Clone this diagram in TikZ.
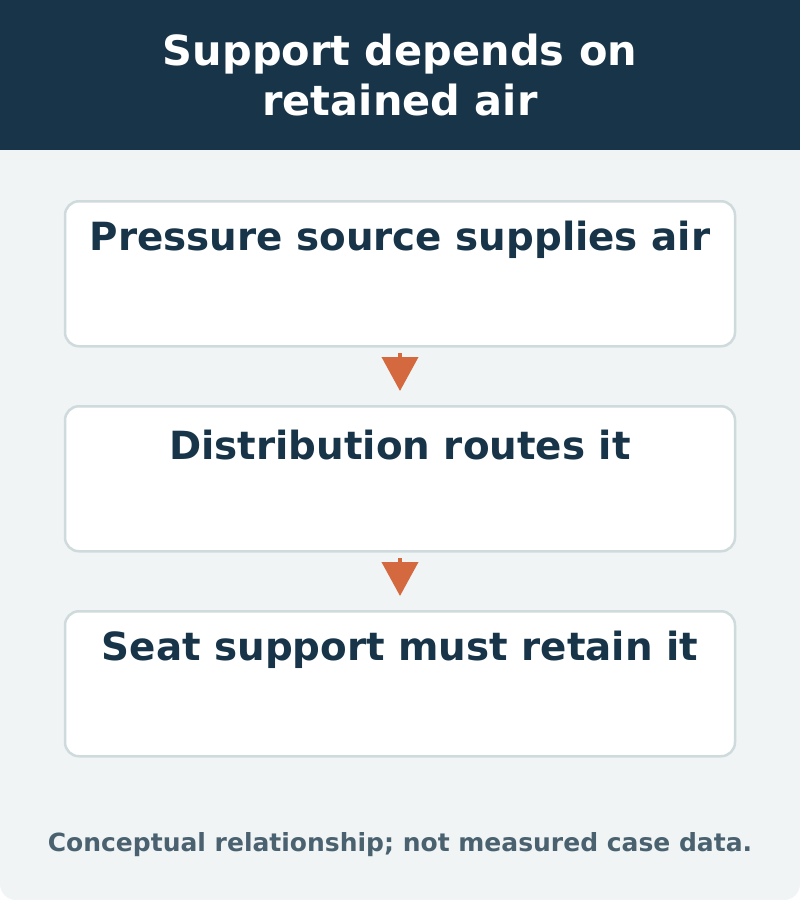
\documentclass[tikz,border=0pt]{standalone}
\usepackage{fontspec}
\setmainfont{DejaVu Sans}
\usetikzlibrary{arrows.meta}
\definecolor{navy}{HTML}{173449}
\definecolor{bg}{HTML}{F0F4F5}
\definecolor{bord}{HTML}{CFDADD}
\definecolor{orng}{HTML}{D4693F}
\definecolor{foot}{HTML}{4A6270}
\begin{document}
\begin{tikzpicture}[x=1pt,y=-1pt,
 box/.style={draw=bord,line width=2.5pt,fill=white,rounded corners=14pt,minimum width=670pt,minimum height=145pt,anchor=north},
 lbl/.style={text=navy,font=\bfseries\fontsize{38.8}{44}\selectfont,anchor=center},
 arr/.style={draw=orng,line width=4pt,-{Triangle[width=36pt,length=34pt]}}]
\useasboundingbox (0,0) rectangle (800,900);
\fill[bg,rounded corners=16pt] (0,0) rectangle (800,900);
\fill[navy] (0,0) rectangle (800,150);
\node[text=white,font=\bfseries\fontsize{41.5}{50}\selectfont,align=center] (title) at (400,75) {Support depends on\\retained air};
\node[box] (b1) at (400,200) {};
\node[box] (b2) at (400,405) {};
\node[box] (b3) at (400,610) {};
\node[lbl] (t1) at (400,240) {Pressure source supplies air};
\node[lbl] (t2) at (400,445) {Distribution routes it};
\node[lbl] (t3) at (400,650) {Seat support must retain it};
\coordinate (a1s) at (400,353); \coordinate (a1e) at (400,391);
\coordinate (a2s) at (400,558); \coordinate (a2e) at (400,596);
\draw[arr] (a1s) -- (a1e);
\draw[arr] (a2s) -- (a2e);
\node[text=foot,font=\bfseries\fontsize{25}{30}\selectfont] (ft) at (400,845) {Conceptual relationship; not measured case data.};
\end{tikzpicture}
\end{document}
